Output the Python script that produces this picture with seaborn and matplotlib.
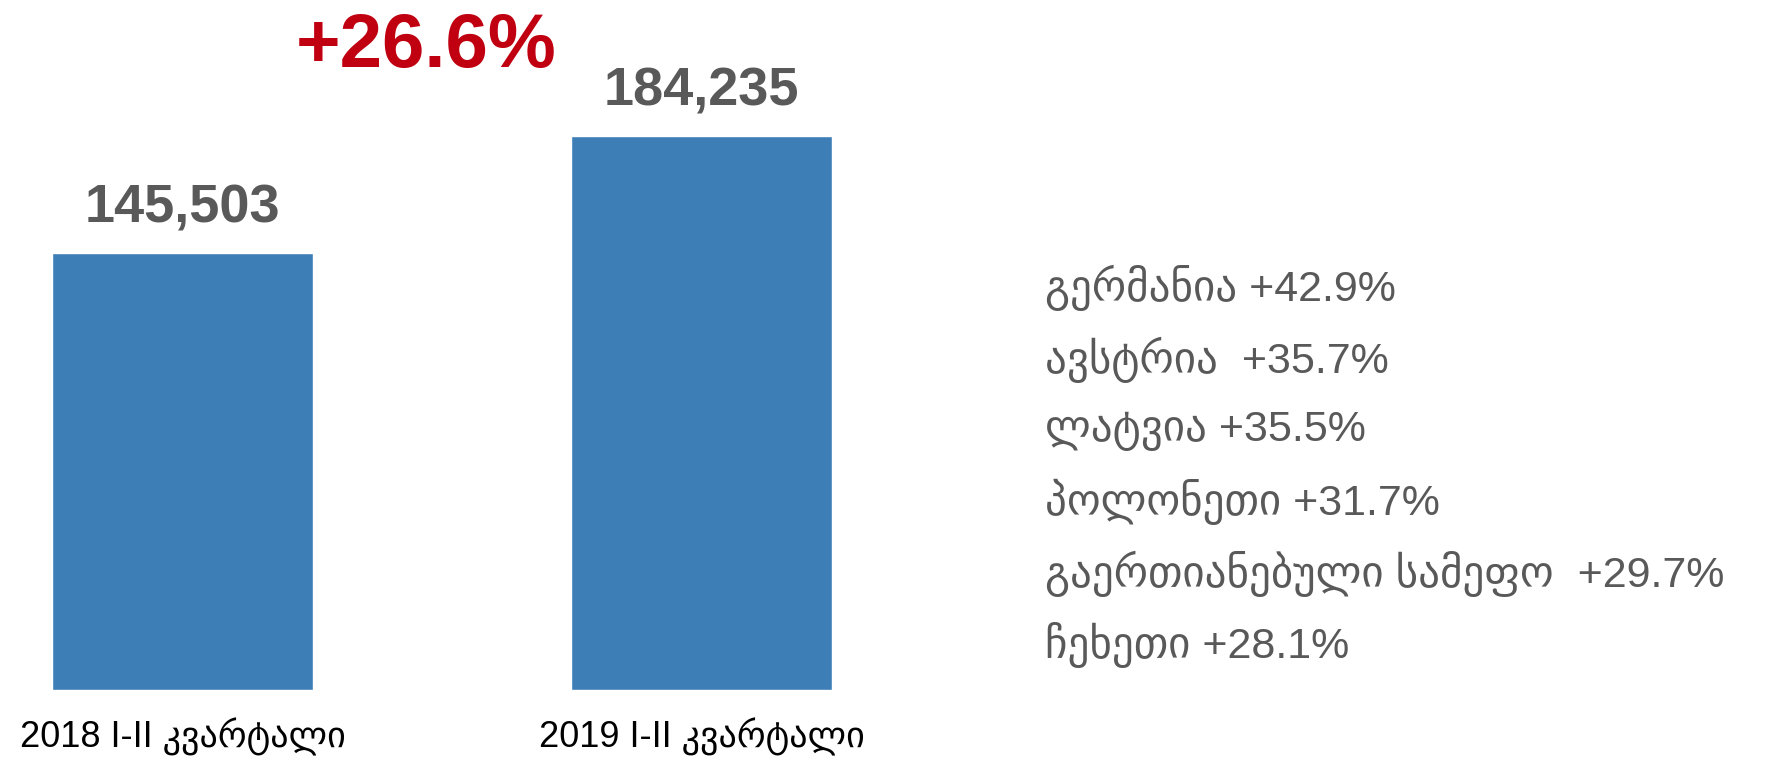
import matplotlib
matplotlib.use("Agg")
import matplotlib.pyplot as plt
import seaborn as sns

# data
periods = ["2018 I-II კვარტალი", "2019 I-II კვარტალი"]
visitors = [145503, 184235]
growth_total = "+26.6%"
countries = ["გერმანია", "ავსტრია ", "ლატვია", "პოლონეთი", "გაერთიანებული სამეფო ", "ჩეხეთი"]
country_growth = ["+42.9%", "+35.7%", "+35.5%", "+31.7%", "+29.7%", "+28.1%"]

sns.set_style("white")
plt.rcParams["font.family"] = ["Liberation Sans", "DejaVu Sans"]

fig = plt.figure(figsize=(17.81, 7.61), dpi=100)
ax = fig.add_axes([0.0, 0.0933, 880 / 1781, 0.9067])

sns.barplot(x=periods, y=visitors, color="#3E7EB7", width=0.503, saturation=1, ax=ax)
ax.set_xlim(-0.352, 1.344)
ax.set_ylim(0, 229500)

for i, v in enumerate(visitors):
    ax.annotate(f"{v:,}", xy=(i, v), xytext=(0, 14), textcoords="offset points",
                ha="center", va="bottom", fontsize=39, fontweight="bold", color="#595959")

sns.despine(ax=ax, left=True, bottom=True)
ax.set_yticks([])
ax.set_ylabel("")
ax.tick_params(axis="x", length=0, pad=20, labelsize=26, labelcolor="black")

fig.text(0.239, 0.937, growth_total, ha="center", va="center",
         fontsize=55, fontweight="bold", color="#C00010")

y0 = 288
for k, (c, g) in enumerate(zip(countries, country_growth)):
    y = y0 + k * 71.4
    fig.text(1045 / 1781, 1 - y / 761, f"{c} {g}", ha="left", va="center",
             fontsize=31, color="#595959",
             family=["Liberation Sans Narrow", "Liberation Sans", "DejaVu Sans"])

fig.savefig("out.png", dpi=100)
